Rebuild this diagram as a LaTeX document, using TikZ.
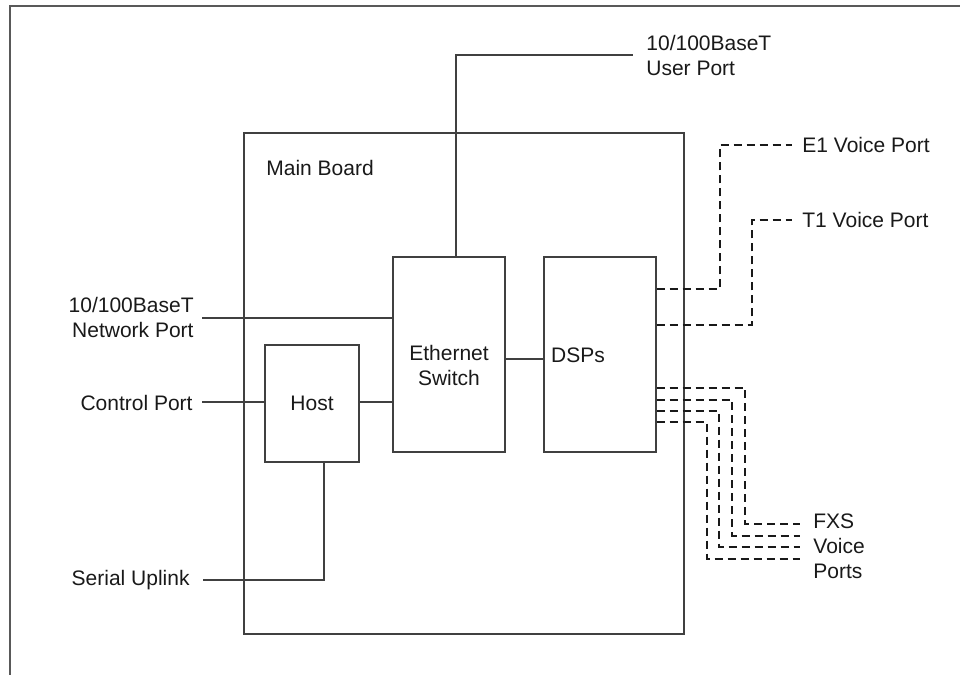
\documentclass[tikz,border=0pt]{standalone}
\usepackage{fontspec}
\setmainfont{Liberation Sans}
\begin{document}
\begin{tikzpicture}[x=0.5pt,y=-0.5pt,
  every node/.style={font=\fontsize{10.5}{12.5}\selectfont, inner sep=0pt},
  box/.style={draw=black!75, line width=0.7pt, rectangle},
  wire/.style={draw=black!75, line width=0.6pt},
  dsh/.style={draw=black!90, line width=1pt, dash pattern=on 4pt off 2.5pt},
  frame/.style={draw=black!65, line width=1pt},
  lbl/.style={text=black!90}]
\useasboundingbox (0,0) rectangle (960,675);
\draw[frame] (960,6) -- (10,6) -- (10,675);
% boxes
\node[box, minimum width=220pt, minimum height=250.5pt] (main) at (464,383.5) {};
\node[box, minimum width=56pt, minimum height=97.5pt] (es) at (449,354.5) {};
\node[box, minimum width=56pt, minimum height=97.5pt] (dsp) at (600,354.5) {};
\node[box, minimum width=47pt, minimum height=58.5pt] (host) at (312,403.5) {};
% box texts
\node[lbl, anchor=west] (maintxt) at (266,168) {Main Board};
\node[lbl, align=center] (estxt) at (449,365) {Ethernet\\Switch};
\node[lbl] (dsptxt) at (578,355) {DSPs};
\node[lbl] (hosttxt) at (312,403.5) {Host};
% coordinates
\coordinate (u0) at (456,55);
\coordinate (u1) at (633,55);
\coordinate (n0) at (202,318);
\coordinate (c0) at (202,402);
\coordinate (ed) at (0,359);
\coordinate (s0) at (203,580);
\coordinate (s1) at (324,580);
\coordinate (e1y) at (0,289);
\coordinate (e1a) at (720,145);
\coordinate (e1b) at (792,145);
\coordinate (t1y) at (0,325);
\coordinate (t1a) at (752,220);
\coordinate (t1b) at (792,220);
\coordinate (f1y) at (0,387.5);
\coordinate (f1a) at (745,524);
\coordinate (f1b) at (800,524);
\coordinate (f2y) at (0,399.5);
\coordinate (f2a) at (732,535.5);
\coordinate (f2b) at (800,535.5);
\coordinate (f3y) at (0,411);
\coordinate (f3a) at (719,547);
\coordinate (f3b) at (800,547);
\coordinate (f4y) at (0,422);
\coordinate (f4a) at (707,559);
\coordinate (f4b) at (800,559);
% solid wires
\draw[wire] (es.north -| u0) -- (u0) -- (u1);
\draw[wire] (n0) -- (n0 -| es.west);
\draw[wire] (c0) -- (c0 -| host.west);
\draw[wire] (host.east |- c0) -- (c0 -| es.west);
\draw[wire] (es.east |- ed) -- (dsp.west |- ed);
\draw[wire] (s0) -- (s1) -- (s1 |- host.south);
% dashed wires
\draw[dsh] (dsp.east |- e1y) -| (e1a) -- (e1b);
\draw[dsh] (dsp.east |- t1y) -| (t1a) -- (t1b);
\draw[dsh] (dsp.east |- f1y) -| (f1a) -- (f1b);
\draw[dsh] (dsp.east |- f2y) -| (f2a) -- (f2b);
\draw[dsh] (dsp.east |- f3y) -| (f3a) -- (f3b);
\draw[dsh] (dsp.east |- f4y) -| (f4a) -- (f4b);
% port labels
\node[lbl, anchor=west, align=left] (userlbl) at (646,55) {10/100BaseT\\User Port};
\node[lbl, anchor=east, align=right] (netlbl) at (194,317) {10/100BaseT\\Network Port};
\node[lbl, anchor=east] (ctllbl) at (193,403) {Control Port};
\node[lbl, anchor=east] (serlbl) at (190,580) {Serial Uplink};
\node[lbl, anchor=west] (e1lbl) at (802,145) {E1 Voice Port};
\node[lbl, anchor=west] (t1lbl) at (802,220) {T1 Voice Port};
\node[lbl, anchor=west, align=left] (fxslbl) at (813,546) {FXS\\Voice\\Ports};
\end{tikzpicture}
\end{document}
